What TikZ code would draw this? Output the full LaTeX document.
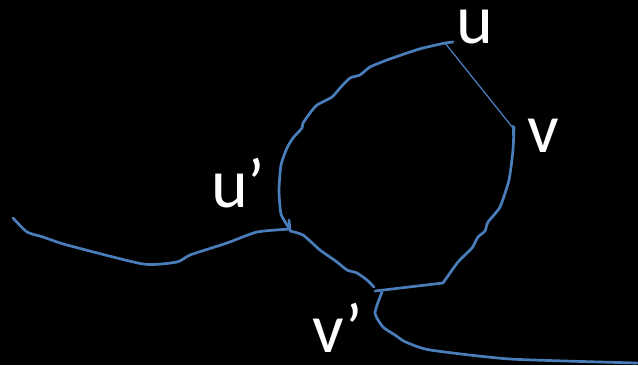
\documentclass[tikz,border=0pt]{standalone}
\usepackage{fontspec}
\setmainfont{Carlito}
\begin{document}
\begin{tikzpicture}[x=1pt,y=-1pt,
  curve/.style={draw=wire,line width=2.7pt,line join=round,line cap=round},
  thin/.style={draw=wire,line width=1.2pt},
  lbl/.style={text=white,font=\fontsize{70}{70}\selectfont,inner sep=0pt,anchor=base west}]
\definecolor{wire}{HTML}{4A7EBB}
\fill[black] (0,0) rectangle (638,365);
\useasboundingbox (0,0) rectangle (638,365);
% labels
\node[lbl] (lu) at (456,43) {u};
\node[lbl] (lv) at (527,152) {v};
\node[lbl] (lup) at (211,207) {u’};
\node[lbl] (lvp) at (312,352) {v’};
% top-left arc u' -> u
\draw[curve] plot[smooth,tension=0.35] coordinates {(289,228) (281,214) (279,190) (281,165) (287,148) (293,138) (302,128) (303,123) (310,113) (317,105) (332,97) (340,88) (350,78) (360,75) (370,67) (387,60) (410,52) (423,48) (445,43)};
\draw[curve] (445,43) -- (453,42);
% tick at u'
\draw[curve] (289,220) -- (290,230);
% thin edge u - v
\draw[thin] (445,43) -- (513,128);
% right arc v -> v'
\draw[curve] (513,126) -- (513,135);
\draw[curve] plot[smooth,tension=0.35] coordinates {(514,127) (513,150) (509,180) (500,207) (488,222) (485,231) (478,237) (472,248) (458,262) (443,283)};
\draw[curve] (443,283) -- (375,291);
% u' -> v'
\draw[curve] plot[smooth,tension=0.35] coordinates {(290,231) (303,235) (320,250) (337,262) (347,270) (357,273) (367,280) (374,287)};
% left tail
\draw[curve] plot[smooth,tension=0.35] coordinates {(13,218) (27,232) (43,237) (67,245) (143,264) (177,262) (190,255) (227,243) (257,232) (290,229)};
% bottom-right tail
\draw[curve] plot[smooth,tension=0.35] coordinates {(382,292) (375,313) (383,327) (395,335) (402,340) (408,343) (430,350) (510,359) (637,363)};
\end{tikzpicture}
\end{document}
